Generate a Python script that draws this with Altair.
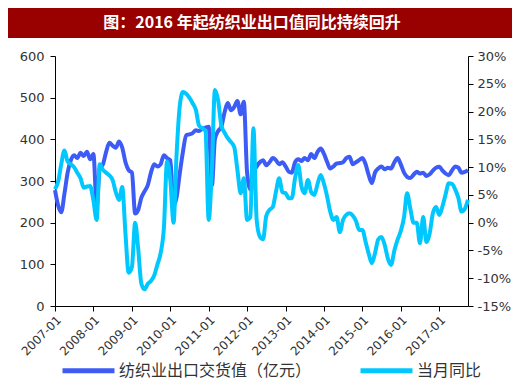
import altair as alt
import pandas as pd

TITLE = "图：2016 年起纺织业出口值同比持续回升"
SERIES = ["纺织业出口交货值（亿元）", "当月同比"]
COLORS = ["#3D5CF5", "#00C8FF"]
START = "2007-01-01"
X_TICKS = ["2007-01", "2008-01", "2009-01", "2010-01", "2011-01", "2012-01",
           "2013-01", "2014-01", "2015-01", "2016-01", "2017-01"]
LEFT_TICKS = [0, 100, 200, 300, 400, 500, 600]
RIGHT_TICKS = [-15, -10, -5, 0, 5, 10, 15, 20, 25, 30]

VALUE = [
    278, 240, 225, 270, 320, 350, 362, 355, 368, 360, 370, 352,   # 2007
    365, 242, 330, 340, 370, 392, 385, 380, 395, 380, 345, 326,   # 2008
    320, 222, 230, 260, 275, 290, 320, 340, 335, 340, 362, 355,   # 2009
    350, 240, 260, 318, 370, 410, 412, 415, 422, 420, 425, 428,   # 2010
    430, 290, 400, 420, 430, 465, 487, 470, 478, 492, 460, 490,   # 2011
    320, 280, 318, 335, 345, 350, 338, 345, 355, 350, 340, 345,   # 2012
    335, 322, 320, 345, 352, 348, 355, 350, 365, 355, 370, 378,   # 2013
    365, 345, 330, 335, 342, 343, 345, 355, 358, 340, 345, 350,   # 2014
    355, 340, 315, 295, 320, 330, 335, 328, 332, 330, 345, 355,   # 2015
    340, 320, 310, 307, 315, 322, 318, 320, 312, 316, 325, 332,   # 2016
    334, 325, 318, 314, 325, 335, 332, 320, 322, 326,             # 2017
]

YOY = [
    6.0, 7.5, 10.5, 13.0, 11.0, 10.5, 10.0, 9.0, 8.0, 6.3, 6.5, 6.6,        # 2007
    4.0, 0.5, 10.5, 9.5, 9.0, 8.5, 7.7, 5.5, 4.1, 6.4, -2.0, -9.0,          # 2008
    -8.0, 0.0, -4.5, -11.0, -12.0, -11.0, -10.5, -9.5, -7.5, -5.5, -1.0, 11.0,  # 2009
    7.7, 0.0, 12.0, 21.0, 23.5, 23.2, 22.5, 21.5, 20.3, 17.5, 17.0, 16.5,   # 2010
    0.5, 10.0, 23.9, 22.0, 17.5, 16.2, 15.2, 14.5, 13.6, 9.5, 5.3, 8.0,     # 2011
    0.5, 1.0, 17.0, 0.5, -2.5, -3.0, 1.2, 2.3, 2.8, 5.5, 8.0, 5.5,          # 2012
    5.3, 4.4, 4.4, 8.0, 10.4, 6.5, 5.3, 7.7, 5.5, 5.0, 7.0, 8.6,            # 2013
    7.0, 4.6, 2.0, 0.5, 1.0, -1.7, 0.5, 1.4, 1.7, 1.3, 0.3, -1.3,           # 2014
    -1.3, -3.5, -5.5, -7.3, -5.5, -3.0, -2.6, -4.0, -6.5, -7.6, -5.0, -3.1, # 2015
    -1.5, 1.0, 5.3, 2.5, 0.0, 0.0, -3.7, 1.0, -3.5, -2.0, 1.7, 2.8,         # 2016
    1.4, 3.0, 5.0, 7.1, 7.0, 6.0, 4.5, 2.0, 2.5, 4.1,                       # 2017
]

assert len(VALUE) == len(YOY)

dates = pd.date_range(START, periods=len(VALUE), freq="MS").strftime("%Y/%m/%d").tolist()
df_val = pd.DataFrame({"date": dates, "v": VALUE, "series": SERIES[0]})
df_yoy = pd.DataFrame({"date": dates, "v": YOY, "series": SERIES[1]})

AXIS_FONT = "DejaVu Sans"
x_values = [alt.DateTime(year=int(t[:4]), month=int(t[5:]), date=1) for t in X_TICKS]

x_enc = alt.X(
    "date:T",
    scale=alt.Scale(nice=False),
    axis=alt.Axis(values=x_values, format="%Y-%m", labelAngle=-45, grid=False,
                  title=None, tickSize=5, labelFont=AXIS_FONT, labelFontSize=12,
                  labelColor="#333333", domainColor="#000000", tickColor="#000000",
                  labelPadding=3, labelOverlap=False, labelBound=False,
                  labelFlush=False),
)

legend = alt.Legend(
    title=None, orient="none", legendX=5, legendY=286, direction="horizontal",
    symbolType="stroke", symbolStrokeWidth=5, symbolSize=2700,
    labelFont="Noto Sans CJK SC", labelFontSize=16, labelColor="#333333",
    columnPadding=38, labelLimit=400, labelOffset=2,
)
color_enc = alt.Color("series:N", scale=alt.Scale(domain=SERIES, range=COLORS),
                      legend=legend)

line_val = alt.Chart(df_val).mark_line(strokeWidth=4, interpolate="monotone").encode(
    x=x_enc,
    y=alt.Y("v:Q", scale=alt.Scale(domain=[0, 600]),
            axis=alt.Axis(values=LEFT_TICKS, grid=False, title=None, orient="left",
                          tickSize=5, labelFont=AXIS_FONT, labelFontSize=13,
                          labelColor="#333333", domainColor="#000000",
                          tickColor="#000000", labelPadding=6)),
    color=color_enc,
)

line_yoy = alt.Chart(df_yoy).mark_line(strokeWidth=4, interpolate="monotone").encode(
    x=x_enc,
    y=alt.Y("v:Q", scale=alt.Scale(domain=[-15, 30]),
            axis=alt.Axis(values=RIGHT_TICKS, grid=False, title=None, orient="right",
                          tickSize=5, labelFont=AXIS_FONT, labelFontSize=13,
                          labelColor="#333333", domainColor="#000000",
                          tickColor="#000000", labelExpr="datum.value + '%'",
                          labelPadding=4)),
    color=color_enc,
)

title_df = pd.DataFrame({"t": [TITLE]})
bar = alt.Chart(title_df).mark_rect(color="#990000").encode(
    x=alt.value(-47), x2=alt.value(457), y=alt.value(-48), y2=alt.value(-18)
)
title_text = alt.Chart(title_df).mark_text(
    font="Noto Sans CJK SC", fontWeight="bold", fontSize=16, color="#FFFFFF",
    align="center", baseline="middle"
).encode(text="t:N", x=alt.value(197), y=alt.value(-33))

chart = alt.layer(line_val, line_yoy, bar, title_text).resolve_scale(
    y="independent"
).properties(
    width=413, height=250,
    padding={"left": 47, "top": 48, "right": 44, "bottom": 78},
    autosize=alt.AutoSizeParams(type="none"),
    background="#FFFFFF",
).configure_view(stroke=None)

chart.save("out.html", embed_options={"renderer": "svg", "actions": False})
